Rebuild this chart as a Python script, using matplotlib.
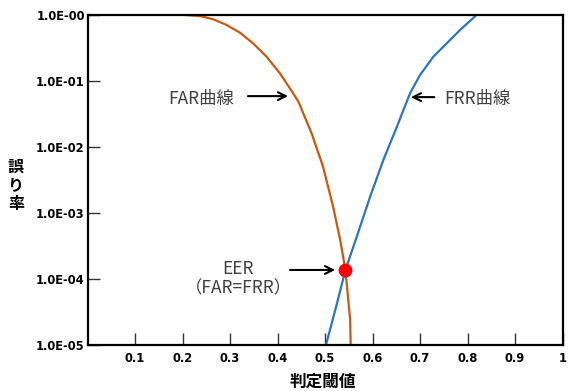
import matplotlib
matplotlib.use("Agg")
import matplotlib.pyplot as plt
import numpy as np

plt.rcParams['font.family'] = ['Noto Sans CJK JP', 'DejaVu Sans']

# FAR curve (threshold, error rate)
far_x = [0.205, 0.237, 0.265, 0.293, 0.321, 0.349, 0.377, 0.405, 0.433,
         0.444, 0.472, 0.496, 0.517, 0.532, 0.543, 0.549, 0.553, 0.554]
far_y = [1.0, 0.965, 0.86, 0.705, 0.54, 0.37, 0.233, 0.131, 0.065,
         0.0486, 0.016, 5.0e-3, 1.25e-3, 3.9e-4, 1.37e-4, 4.8e-5, 2.4e-5,
         1.0e-5]

# FRR curve
frr_x = [0.502, 0.525, 0.543, 0.567, 0.595, 0.623, 0.651, 0.679, 0.700,
         0.728, 0.756, 0.784, 0.819]
frr_y = [1.0e-5, 4.2e-5, 1.37e-4, 4.4e-4, 1.77e-3, 6.4e-3, 0.020, 0.065,
         0.123, 0.233, 0.37, 0.59, 1.0]

# equal error rate point
eer_x = 0.543
eer_y = 1.37e-4

xticks = [0.1, 0.2, 0.3, 0.4, 0.5, 0.6, 0.7, 0.8, 0.9, 1.0]
xtick_labels = ['0.1', '0.2', '0.3', '0.4', '0.5', '0.6', '0.7', '0.8', '0.9', '1']
yticks = [1e-5, 1e-4, 1e-3, 1e-2, 1e-1, 1e0]
ytick_labels = ['1.0E-05', '1.0E-04', '1.0E-03', '1.0E-02', '1.0E-01', '1.0E-00']

fig = plt.figure(figsize=(5.72, 3.91), dpi=100)
ax = fig.add_axes([87.5/572, 1-345/391, 475/572, 330/391])

ax.plot(far_x, far_y, color='#c55a11', lw=1.6, solid_capstyle='butt')
ax.plot(frr_x, frr_y, color='#2e75b6', lw=1.6, solid_capstyle='butt')
ax.plot([eer_x], [eer_y], 'o', color='#ff0000', ms=9, zorder=5)

ax.set_yscale('log')
ax.set_xlim(0, 1)
ax.set_ylim(1e-5, 1)
ax.set_xticks(xticks)
ax.set_xticklabels(xtick_labels)
ax.set_yticks(yticks)
ax.set_yticklabels(ytick_labels)
ax.minorticks_off()
ax.tick_params(direction='in', length=8.5, width=1, color='#333333',
               labelsize=8.3)
ax.tick_params(axis='x', pad=5)
ax.tick_params(axis='y', pad=2)
for lab in ax.get_xticklabels() + ax.get_yticklabels():
    lab.set_fontweight('bold')
    lab.set_family('DejaVu Sans')
for sp in ax.spines.values():
    sp.set_linewidth(1.6)
    sp.set_color('black')

# annotations
txt_color = '#404040'
arrow = dict(arrowstyle='->', color='black', lw=1.5, mutation_scale=14)
ax.annotate('', xy=(0.428, 0.059), xytext=(0.332, 0.059), arrowprops=arrow)
ax.text(0.240, 0.054, 'FAR曲線', ha='center', va='center', fontsize=12.5,
        color=txt_color)
ax.annotate('', xy=(0.675, 0.057), xytext=(0.736, 0.057), arrowprops=arrow)
ax.text(0.821, 0.054, 'FRR曲線', ha='center', va='center', fontsize=12.5,
        color=txt_color)
ax.annotate('', xy=(0.527, eer_y), xytext=(0.4205, eer_y), arrowprops=arrow)
ax.text(0.317, 1.0e-4, 'EER\n（FAR=FRR）', ha='center', va='center',
        fontsize=12.5, color=txt_color, linespacing=1.1)

fig.text(323/572, 1-382/391, '判定閾値', ha='center', va='center',
         fontsize=12, fontweight='bold')
fig.text(16/572, 1-185/391, '誤\nり\n率', ha='center', va='center',
         fontsize=11.5, fontweight='bold', linespacing=1.2)

fig.savefig('out.png', dpi=100)
